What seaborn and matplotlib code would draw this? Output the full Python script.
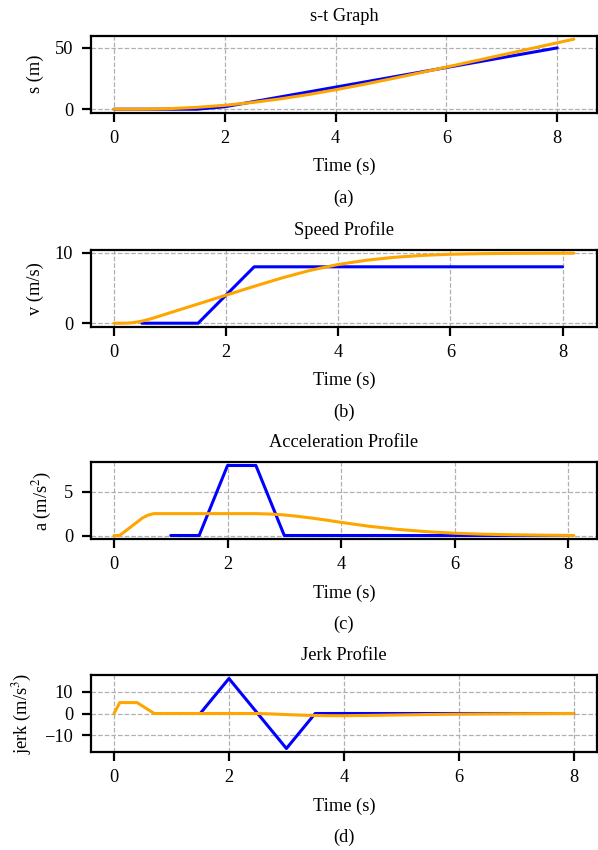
import matplotlib
matplotlib.use("Agg")
import matplotlib.pyplot as plt
import pandas as pd
import seaborn as sns

sns.set_style("ticks")
plt.rcParams["font.family"] = ["Liberation Serif", "DejaVu Serif"]
plt.rcParams["mathtext.fontset"] = "stix"
plt.rcParams["font.size"] = 13.25
plt.rcParams["text.color"] = "black"
plt.rcParams["axes.labelcolor"] = "black"
plt.rcParams["xtick.color"] = "black"
plt.rcParams["ytick.color"] = "black"

# ---- piecewise (blue) profile, sampled every 0.5 s ----
blue_t_s = [0, 0.5, 1, 1.5, 2, 2.5, 3, 3.5, 4, 4.5, 5, 5.5, 6, 6.5, 7, 7.5, 8]
blue_s = [0, 0, 0, 0, 2, 6, 10, 14, 18, 22, 26, 30, 34, 38, 42, 46, 50]

blue_t_v = [0.5, 1, 1.5, 2, 2.5, 3, 3.5, 4, 4.5, 5, 5.5, 6, 6.5, 7, 7.5, 8]
blue_v = [0, 0, 0, 4, 8, 8, 8, 8, 8, 8, 8, 8, 8, 8, 8, 8]

blue_t_a = [1, 1.5, 2, 2.5, 3, 3.5, 4, 4.5, 5, 5.5, 6, 6.5, 7, 7.5, 8]
blue_a = [0, 0, 8, 8, 0, 0, 0, 0, 0, 0, 0, 0, 0, 0, 0]

blue_t_j = [1.5, 2, 2.5, 3, 3.5, 4, 4.5, 5, 5.5, 6, 6.5, 7, 7.5, 8]
blue_j = [0, 16, 0, -16, 0, 0, 0, 0, 0, 0, 0, 0, 0, 0]

# ---- smooth (orange) profile ----
orange_t_s = [0, 0.25, 0.5, 0.75, 1.0, 1.5, 2.0, 2.5, 3.0, 3.5, 4.0, 4.5, 5.0,
              5.5, 6.0, 6.5, 7.0, 7.5, 8.0, 8.3]
orange_s = [0, 0.0, 0.04, 0.2, 0.47, 1.52, 3.2, 5.5, 8.4, 11.88, 15.84, 20.16,
            24.73, 29.47, 34.33, 39.25, 44.2, 49.17, 54.15, 57.1]

orange_t_v = [0, 0.1, 0.2, 0.3, 0.4, 0.5, 0.6, 0.7, 0.8, 1.0, 1.5, 2.0, 2.5,
              3.0, 3.5, 4.0, 4.5, 5.0, 5.5, 6.0, 6.5, 7.0, 7.5, 8.0, 8.2]
orange_v = [0, 0, 0, 0.05, 0.15, 0.30, 0.50, 0.73, 0.98, 1.48, 2.73, 3.98, 5.23,
            6.43, 7.50, 8.33, 8.93, 9.35, 9.62, 9.78, 9.86, 9.90, 9.92, 9.93, 9.93]

orange_t_a = [0, 0.1, 0.2, 0.3, 0.4, 0.5, 0.6, 0.7, 1.0, 1.5, 2.0, 2.5, 2.75,
              3.0, 3.25, 3.5, 3.75, 4.0, 4.5, 5.0, 5.5, 6.0, 6.5, 7.0, 7.5, 8.0, 8.1]
orange_a = [0, 0, 0.5, 1.0, 1.5, 2.0, 2.33, 2.5, 2.5, 2.5, 2.5, 2.5, 2.45,
            2.35, 2.18, 1.98, 1.75, 1.5, 1.05, 0.7, 0.44, 0.26, 0.15, 0.08, 0.04, 0.01, 0.0]

orange_t_j = [0, 0.1, 0.4, 0.7, 2.5, 2.75, 3.0, 3.25, 3.5, 3.75, 4.0, 4.5,
              5.0, 5.5, 6.0, 6.5, 7.0, 7.5, 8.0]
orange_j = [0, 5, 5, 0, 0, -0.2, -0.5, -0.75, -0.9, -1.0, -1.0, -0.85,
            -0.65, -0.45, -0.3, -0.2, -0.12, -0.06, 0.0]

titles = ["s-t Graph", "Speed Profile", "Acceleration Profile", "Jerk Profile"]
ylabels = ["s (m)", "v (m/s)", "a (m/s$^2$)", "jerk (m/s$^3$)"]
yticks = [[0, 50], [0, 10], [0, 5], [-10, 0, 10]]
xticks = [0, 2, 4, 6, 8]
captions = ["(a)", "(b)", "(c)", "(d)"]

panels = [
    (blue_t_s, blue_s, orange_t_s, orange_s),
    (blue_t_v, blue_v, orange_t_v, orange_v),
    (blue_t_a, blue_a, orange_t_a, orange_a),
    (blue_t_j, blue_j, orange_t_j, orange_j),
]

W, H = 598, 850
fig = plt.figure(figsize=(W / 100, H / 100), dpi=100)

left_px, right_px = 91, 596.8
tops_px = [35.7, 249.7, 462.0, 675.0]
height_px = 77.0

palette = {"piecewise": "#0000ff", "smooth": "#ffa500"}

for i, (bt, bv, ot, ov) in enumerate(panels):
    top = tops_px[i]
    ax = fig.add_axes([left_px / W, 1 - (top + height_px) / H,
                       (right_px - left_px) / W, height_px / H])
    df = pd.concat([
        pd.DataFrame({"t": bt, "y": bv, "profile": "piecewise"}),
        pd.DataFrame({"t": ot, "y": ov, "profile": "smooth"}),
    ], ignore_index=True)
    sns.lineplot(data=df, x="t", y="y", hue="profile", palette=palette,
                 hue_order=["piecewise", "smooth"], estimator=None, sort=False,
                 linewidth=2.2, legend=False, ax=ax)
    ax.set_xticks(xticks)
    ax.set_yticks(yticks[i])
    ax.grid(True, linestyle="--", color="#b0b0b0", linewidth=0.9)
    ax.set_axisbelow(True)
    for sp in ax.spines.values():
        sp.set_visible(True)
        sp.set_linewidth(1.6)
        sp.set_color("black")
    ax.tick_params(axis="both", direction="out", length=6.8, width=1.6,
                   labelsize=13.25, colors="black")
    ax.tick_params(axis="x", pad=5.5)
    ax.tick_params(axis="y", pad=6.0)
    ax.set_title(titles[i], fontsize=13.25, pad=10.8, color="black")
    ax.set_xlabel("Time (s)", fontsize=13.25, labelpad=8.0)
    ax.set_ylabel(ylabels[i], fontsize=13.25, labelpad=7.5)
    cx = (left_px + right_px) / 2 / W
    fig.text(cx, 1 - (top + 167.0) / H, captions[i], ha="center",
             va="baseline", fontsize=13.25, color="black")

fig.savefig("out.png", dpi=100)
